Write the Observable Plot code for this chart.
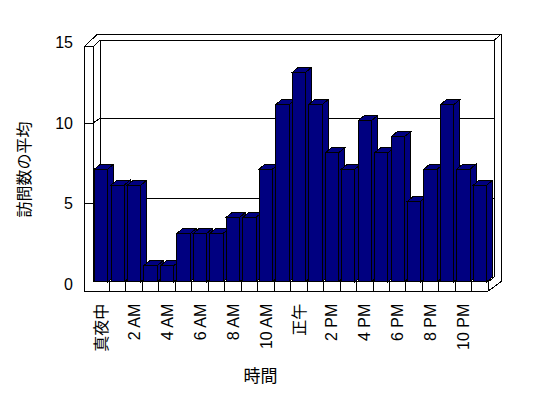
<!DOCTYPE html>
<html><head><meta charset="utf-8">
<script src="https://cdn.jsdelivr.net/npm/d3@7"></script>
<script src="https://cdn.jsdelivr.net/npm/@observablehq/plot@0.6"></script>
<style>
html,body{margin:0;padding:0;background:#fff;}
</style></head><body>
<div id="chart"></div>
<script>
// ---- data ----
const hours = ["真夜中","1 AM","2 AM","3 AM","4 AM","5 AM","6 AM","7 AM","8 AM","9 AM","10 AM","11 AM",
               "正午","1 PM","2 PM","3 PM","4 PM","5 PM","6 PM","7 PM","8 PM","9 PM","10 PM","11 PM"];
const visits = [7,6,6,1,1,3,3,3,4,4,7,11,13,11,8,7,10,8,9,5,7,11,7,6];
const xTickLabels = ["真夜中","2 AM","4 AM","6 AM","8 AM","10 AM","正午","2 PM","4 PM","6 PM","8 PM","10 PM"];
const yTicks = [0,5,10,15];
const gridValues = [5,10];
const yTitle = "訪問数の平均";
const xTitle = "時間";

const data = hours.map((h, i) => ({hour: h, value: visits[i]}));

const FONT = '"Liberation Sans", "Noto Sans CJK JP", sans-serif';
const NAVY = "#000080";

const fnum = (v) => (typeof v === "function" ? v() : v);

// 3D box (walls + floor) drawn from the scales' ranges
function frame3d(index, scales, values, dims) {
  const sx = scales.x, sy = scales.y;
  const L = dims.marginLeft, R = dims.width - dims.marginRight;
  const B = sy(0), T = sy(15);
  const step = fnum(sx.step);
  const po = fnum(sx.paddingOuter) * step;
  const t = 9;           // wall thickness
  const g = d3.create("svg:g").attr("fill", "none").attr("stroke", "black").attr("stroke-width", 1);
  const path = (pts, close) => g.append("path").attr("d", "M" + pts.map(p => p[0] + "," + p[1]).join("L") + (close ? "Z" : ""));
  // outer silhouette
  path([[L - t, T + 6.5], [L + 4.5, T - 6], [R + 12.7, T - 6], [R + 12.7, B], [R, B + 9.3], [L - t, B + 9.3]], true)
    .attr("fill", "white");
  // left wall top + back wall top
  path([[L - t, T + 6.5], [L, T + 6.5], [L + 7, T], [R + 6, T], [R + 12.7, T - 6]]);
  // left wall inner edge
  path([[L, T + 6.5], [L, B]]);
  // back wall edges
  path([[L + 7, T], [L + 7, B - 4.7]]);
  path([[R + 6, T], [R + 6, B - 4.7]]);
  // floor
  path([[L, B], [R, B], [R + 6, B - 4.7]]);
  path([[R, B], [R, B + 9.3]]);
  hours.forEach((h, i) => { if (i > 0) { const xb = sx(h) - po; path([[xb, B], [xb, B + 9.3]]); } });
  // gridlines + front ticks
  gridValues.forEach(v => {
    const yf = sy(v) + 2.5, yb = yf - 5;
    path([[L - t, yf], [L, yf], [L + 7, yb], [R + 6, yb]]);
  });
  return g.node();
}

// 3D bars: front face, top face and right side face
function bars3d(index, scales, values, dims, context, next) {
  const sx = scales.x, sy = scales.y;
  const w = fnum(sx.bandwidth);
  const ddx = 6, ddy = -5;
  const g = d3.create("svg:g").attr("fill", NAVY).attr("stroke", "black").attr("stroke-width", 1);
  for (const i of index) {
    const x1 = values.x[i], x2 = x1 + w;
    const yt = Math.min(values.y1[i], values.y2[i]), yb = Math.max(values.y1[i], values.y2[i]);
    g.append("path").attr("d", `M${x2},${yt}L${x2 + ddx},${yt + ddy}L${x2 + ddx},${yb + ddy}L${x2},${yb}Z`);
    g.append("path").attr("d", `M${x1},${yt}L${x1 + ddx},${yt + ddy}L${x2 + ddx},${yt + ddy}L${x2},${yt}Z`);
    g.append("rect").attr("x", x1).attr("y", yt).attr("width", w).attr("height", yb - yt);
  }
  return g.node();
}

const chart = Plot.plot({
  width: 548,
  height: 398,
  marginLeft: 93,
  marginRight: 59.7,
  marginTop: 40.2,
  marginBottom: 116.3,
  style: {fontFamily: FONT, fontSize: "16px", background: "white", color: "black", shapeRendering: "crispEdges"},
  x: {type: "band", domain: hours, paddingInner: 0.19, paddingOuter: 0.095, round: false, axis: null},
  y: {domain: [0, 15], axis: null},
  marks: [
    frame3d,
    Plot.barY(data, {x: "hour", y: "value", fill: NAVY, stroke: "black", render: bars3d}),
    Plot.text(yTicks, {y: d => d, text: d => String(d), frameAnchor: "left", textAnchor: "end", lineAnchor: "middle", dx: -20.5, dy: 2.5, fontSize: 16, fill: "black"}),
    Plot.text(xTickLabels, {x: d => d, text: d => d, frameAnchor: "bottom", rotate: -90, textAnchor: "end", lineAnchor: "middle", dy: 21.5, fontSize: 16, fill: "black"}),
    Plot.text([yTitle], {text: d => d, frameAnchor: "left", rotate: -90, textAnchor: "middle", lineAnchor: "middle", dx: -69, dy: 8, fontSize: 16, fill: "black"}),
    Plot.text([xTitle], {text: d => d, frameAnchor: "bottom", textAnchor: "middle", lineAnchor: "middle", dx: -30.7, dy: 94.5, fontSize: 17, fill: "black"})
  ]
});
document.getElementById("chart").appendChild(chart);
</script>
</body></html>
